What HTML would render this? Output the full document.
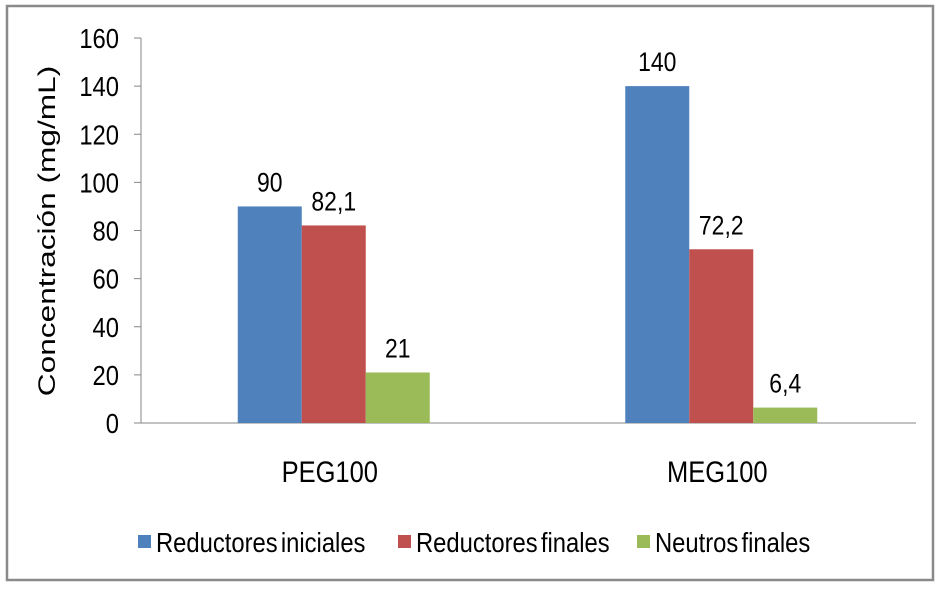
<!DOCTYPE html>
<html><head><meta charset="utf-8"><style>
body{margin:0;background:#fff;}
svg text{font-family:"Liberation Sans",sans-serif;fill:#000;}
</style></head><body>
<svg width="941" height="586" xmlns="http://www.w3.org/2000/svg">
<rect x="7" y="6" width="926" height="574" fill="#fff" stroke="#8a8a8a" stroke-width="2.5"/>
<g id="g"></g>
</svg>
<script>
const categories=["PEG100","MEG100"];
const seriesNames=["Reductores iniciales","Reductores finales","Neutros finales"];
const iniciales=[90,140];
const finales=[82.1,72.2];
const neutros=[21,6.4];
const labels=[["90","140"],["82,1","72,2"],["21","6,4"]];
const ticks=[0,20,40,60,80,100,120,140,160];
const colors=["#4f81bd","#c0504d","#9bbb59"];
const series=[iniciales,finales,neutros];
const NS="http://www.w3.org/2000/svg";
const g=document.getElementById('g');
const X0=141,X1=916,Y0=423,Y1=38;
const y=v=>Y0-(v/160)*(Y0-Y1);
const catW=(X1-X0)/categories.length;
const barW=64;
const SX=0.85;
function mk(t,a,txt){const e=document.createElementNS(NS,t);for(const k in a)e.setAttribute(k,a[k]);if(txt!=null)e.textContent=txt;g.appendChild(e);return e;}
function tx(x,yy,anchor,size,txt,extra){const a={x:0,y:0,'text-anchor':anchor,'font-size':size,transform:'translate('+x+','+yy+') scale('+SX+',1)'};if(extra)Object.assign(a,extra);return mk('text',a,txt);}
ticks.forEach(t=>{
 const l=mk('line',{x1:134,x2:X0,y1:y(t),y2:y(t),stroke:'#868686'});
 
 
 const e=tx(119,y(t)+10,'end',28,String(t));
 
 
});
const ax=mk('line',{x1:X0,x2:X0,y1:Y1,y2:Y0,stroke:'#868686'});


const xa=mk('line',{x1:X0-7,x2:X1,y1:Y0,y2:Y0,stroke:'#868686'});


const yt=mk('text',{x:0,y:0,'font-size':28,'text-anchor':'middle',transform:'translate(55,231) rotate(-90) scale(1.13,0.85)'},'Concentración (mg/mL)');


categories.forEach((c,i)=>{
 const cx=X0+catW*(i+0.5);
 const ct=tx(cx-5,482,'middle',30,c);
 
 
 series.forEach((s,j)=>{
  const bx=cx-1.5*barW+j*barW-1;
  const r=mk('rect',{x:bx,y:y(s[i]),width:barW,height:Y0-y(s[i]),fill:colors[j]});
  
  
  const lt=tx(bx+barW/2,y(s[i])-15,'middle',27,labels[j][i]);
  
  
 });
});
const lx=[138,398,637];
seriesNames.forEach((n,j)=>{
 const r=mk('rect',{x:lx[j],y:535,width:13,height:13,fill:colors[j]});
 
 
 const t=tx(lx[j]+18,552,'start',28,n,{'word-spacing':'-4'});
 
 
});
</script>
</body></html>
